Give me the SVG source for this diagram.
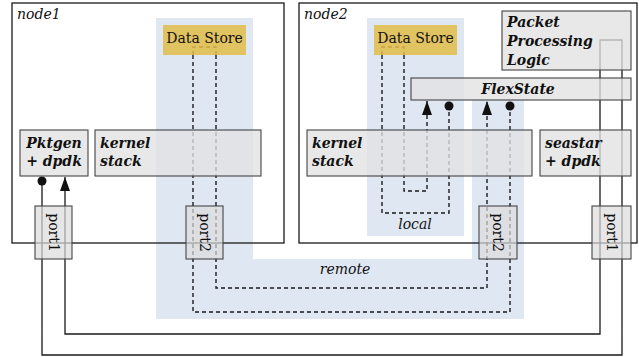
<svg xmlns="http://www.w3.org/2000/svg" width="639" height="357" viewBox="0 0 639 357">
<defs>
<style>
.bg{fill:#dfe7f3;stroke:none}
.frame{fill:none;stroke:#1a1a1a;stroke-width:1.3}
.ds{fill:#e3bc48;fill-opacity:0.85;stroke:none}
.box{fill:#e2e2e2;fill-opacity:0.78;stroke:#444;stroke-width:1.1}
.port{fill:#dcdcdc;fill-opacity:0.7;stroke:#444;stroke-width:1.1}
.ln{fill:none;stroke:#1a1a1a;stroke-width:1.3}
.dash{fill:none;stroke:#1a1a1a;stroke-width:1.4;stroke-dasharray:4 3}
.t{font-family:"DejaVu Serif","Liberation Serif",serif;font-size:14px;fill:#111}
.bi{font-family:"DejaVu Serif","Liberation Serif",serif;font-size:14px;font-weight:bold;font-style:italic;fill:#111}
.it{font-family:"DejaVu Serif","Liberation Serif",serif;font-size:14px;font-style:italic;fill:#111}
.dot{fill:#111}
</style>
<marker id="arr" viewBox="0 0 14 10" refX="14" refY="5" markerWidth="14" markerHeight="10" markerUnits="userSpaceOnUse" orient="auto">
<path d="M0 0 L14 5 L0 10 Z" fill="#111"/>
</marker>
</defs>

<g id="backgrounds">
<path class="bg" d="M156 18 H253 V259 H472 V100 H524 V319 H156 Z"/>
<rect class="bg" x="367" y="18" width="97" height="218"/>
</g>

<g id="node1">
<rect class="frame" x="12" y="3" width="272" height="240"/>
<text class="it" x="17" y="19">node1</text>
</g>
<g id="node2">
<rect class="frame" x="299" y="3" width="338" height="240"/>
<text class="it" x="304" y="19">node2</text>
</g>

<g id="labels">
<text class="it" x="415" y="229" text-anchor="middle">local</text>
<text class="it" x="345" y="274" text-anchor="middle">remote</text>
</g>

<g id="connectors">
<path class="ln" d="M42 181 V355 H622 V40 H600 V334 H65 V177" marker-end="url(#arr)"/>
<circle class="dot" cx="42" cy="181" r="4.5"/>
<path class="dash" d="M193 55 V47 H216 V55"/>
<path class="dash" d="M193 55 V312 H510 V106"/>
<circle class="dot" cx="510" cy="106" r="4.5"/>
<path class="dash" d="M216 55 V288 H487 V101" marker-end="url(#arr)"/>
<path class="dash" d="M382 55 V47 H404 V55"/>
<path class="dash" d="M382 55 V213 H449 V106"/>
<circle class="dot" cx="449" cy="106" r="4.5"/>
<path class="dash" d="M404 55 V191 H427 V101" marker-end="url(#arr)"/>
</g>

<g id="datastore1">
<rect class="ds" x="163" y="25" width="83" height="30"/>
<text class="t" x="204.5" y="43" text-anchor="middle">Data Store</text>
</g>
<g id="datastore2">
<rect class="ds" x="374" y="25" width="83" height="30"/>
<text class="t" x="415.5" y="43" text-anchor="middle">Data Store</text>
</g>

<g id="pktgen">
<rect class="box" x="20" y="130" width="68" height="46"/>
<text class="bi" x="54" y="148" text-anchor="middle">Pktgen</text>
<text class="bi" x="54" y="166" text-anchor="middle">+ dpdk</text>
</g>
<g id="kernel1">
<rect class="box" x="95" y="130" width="166" height="46"/>
<text class="bi" x="100" y="148">kernel</text>
<text class="bi" x="100" y="166">stack</text>
</g>
<g id="kernel2">
<rect class="box" x="307" y="130" width="225" height="46"/>
<text class="bi" x="312" y="148">kernel</text>
<text class="bi" x="312" y="166">stack</text>
</g>
<g id="seastar">
<rect class="box" x="540" y="130" width="91" height="46"/>
<text class="bi" x="545" y="148">seastar</text>
<text class="bi" x="545" y="166">+ dpdk</text>
</g>
<g id="ppl">
<rect class="box" x="502" y="11" width="129" height="59"/>
<text class="bi" x="507" y="27">Packet</text>
<text class="bi" x="507" y="46">Processing</text>
<text class="bi" x="507" y="65">Logic</text>
</g>
<g id="flexstate">
<rect class="box" x="411" y="78" width="220" height="22"/>
<text class="bi" x="518" y="94" text-anchor="middle">FlexState</text>
</g>

<g id="port1_n1">
<rect class="port" x="35" y="206" width="37" height="53"/>
<text class="t" transform="translate(53.5 232.5) rotate(90)" text-anchor="middle" dy="5">port1</text>
</g>
<g id="port2_n1">
<rect class="port" x="186" y="206" width="37" height="53"/>
<text class="t" transform="translate(204.5 232.5) rotate(90)" text-anchor="middle" dy="5">port2</text>
</g>
<g id="port2_n2">
<rect class="port" x="479" y="206" width="38" height="53"/>
<text class="t" transform="translate(498 232.5) rotate(90)" text-anchor="middle" dy="5">port2</text>
</g>
<g id="port1_n2">
<rect class="port" x="592" y="206" width="39" height="53"/>
<text class="t" transform="translate(611.5 232.5) rotate(90)" text-anchor="middle" dy="5">port1</text>
</g>
</svg>
